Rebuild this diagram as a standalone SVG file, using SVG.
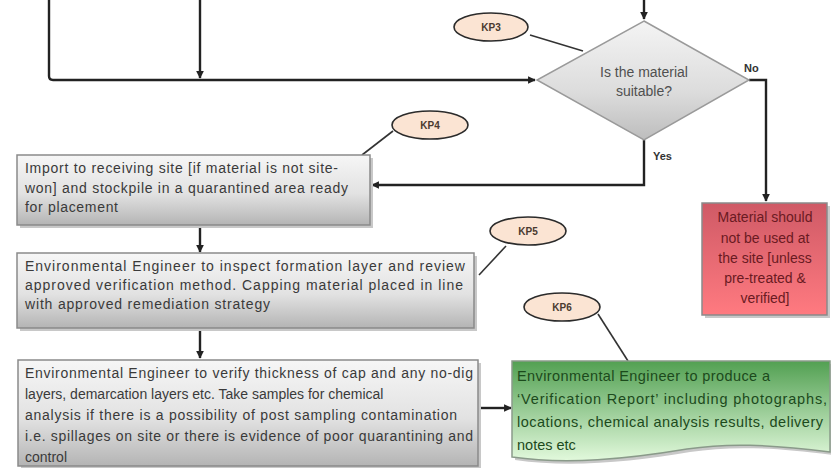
<svg xmlns="http://www.w3.org/2000/svg" width="831" height="468" viewBox="0 0 831 468">
<defs>
<style>
.t{font-family:"Liberation Sans",Arial,sans-serif;font-size:14px;fill:#3a3a3a}
.box{stroke:#8a8a8a;stroke-width:1.5}
.sh{fill:#c8c8c8}
.kp{fill:#fbe4d3;stroke:#2b2b2b;stroke-width:1.6}
.kpt{font-family:"Liberation Sans",Arial,sans-serif;font-size:10px;font-weight:bold;fill:#4a3a30;text-anchor:middle}
.lbl{font-family:"Liberation Sans",Arial,sans-serif;font-size:11px;font-weight:bold;fill:#333}
.c{fill:none;stroke:#222;stroke-width:2.4}
.lead{fill:none;stroke:#333;stroke-width:1.6}
</style>
<linearGradient id="gray" x1="0" y1="0" x2="0" y2="1">
<stop offset="0" stop-color="#f6f6f6"/>
<stop offset="0.55" stop-color="#e2e2e2"/>
<stop offset="1" stop-color="#b4b4b4"/>
</linearGradient>
<linearGradient id="dia" x1="0" y1="0" x2="0" y2="1">
<stop offset="0" stop-color="#f4f4f4"/>
<stop offset="0.6" stop-color="#dcdcdc"/>
<stop offset="1" stop-color="#bdbdbd"/>
</linearGradient>
<linearGradient id="red" x1="0" y1="0" x2="0" y2="1">
<stop offset="0" stop-color="#cf5a66"/>
<stop offset="1" stop-color="#ff7a80"/>
</linearGradient>
<linearGradient id="green" x1="0" y1="0" x2="0" y2="1">
<stop offset="0" stop-color="#52a052"/>
<stop offset="1" stop-color="#e2f9dc"/>
</linearGradient>
<marker id="ah" viewBox="0 0 10 10" refX="9" refY="5" markerWidth="3.2" markerHeight="3.2" orient="auto" markerUnits="strokeWidth">
<path d="M0,0 L10,5 L0,10 z" fill="#222"/>
</marker>
</defs>

<g id="connectors">
<path class="c" d="M49,0 V76 Q49,80 53,80 H535" marker-end="url(#ah)"/>
<path class="c" d="M200,0 V78" marker-end="url(#ah)"/>
<path class="c" d="M644,0 V19" marker-end="url(#ah)"/>
<path class="c" d="M749,80 H766 V201" marker-end="url(#ah)"/>
<path class="c" d="M644,140 V185 H372" marker-end="url(#ah)"/>
<path class="c" d="M200,225 V252" marker-end="url(#ah)"/>
<path class="c" d="M200,329 V358" marker-end="url(#ah)"/>
<path class="c" d="M479,408 H511" marker-end="url(#ah)"/>
<path class="lead" d="M530,35 L583,51"/>
<path class="lead" d="M362,155 L393,131"/>
<path class="lead" d="M479,275 L506,246"/>
<path class="lead" d="M598,314 L628,361"/>
</g>

<g id="decision">
<path d="M644,21 L749,80 L644,140 L537,80 Z" fill="url(#dia)" stroke="#9a9a9a" stroke-width="1.5"/>
<text class="t" x="644" y="77" text-anchor="middle" style="fill:#505050">Is the material</text>
<text class="t" x="644" y="96" text-anchor="middle" style="fill:#505050">suitable?</text>
<text class="lbl" x="744" y="72">No</text>
<text class="lbl" x="653" y="160">Yes</text>
</g>

<g id="kp3"><ellipse class="kp" cx="491" cy="27" rx="37" ry="14"/><text class="kpt" x="491" y="31">KP3</text></g>
<g id="kp4"><ellipse class="kp" cx="430" cy="125" rx="38" ry="14"/><text class="kpt" x="430" y="129">KP4</text></g>
<g id="kp5"><ellipse class="kp" cx="528" cy="231" rx="38" ry="14"/><text class="kpt" x="528" y="235">KP5</text></g>
<g id="kp6"><ellipse class="kp" cx="562" cy="307" rx="38" ry="14"/><text class="kpt" x="562" y="311">KP6</text></g>

<g id="box1">
<rect class="sh" x="20" y="158" width="353" height="70"/>
<rect class="box" x="17" y="155" width="353" height="70" fill="url(#gray)"/>
<text class="t" x="25" y="173" textLength="313" lengthAdjust="spacing">Import to receiving site [if material is not site-</text>
<text class="t" x="25" y="193" textLength="323" lengthAdjust="spacing">won] and stockpile in a quarantined area ready</text>
<text class="t" x="25" y="212" textLength="93" lengthAdjust="spacing">for placement</text>
</g>

<g id="box2">
<rect class="sh" x="20" y="256" width="457" height="75"/>
<rect class="box" x="17" y="253" width="457" height="75" fill="url(#gray)"/>
<text class="t" x="25" y="271" textLength="440" lengthAdjust="spacing">Environmental Engineer to inspect formation layer and review</text>
<text class="t" x="25" y="290" textLength="438" lengthAdjust="spacing">approved verification method. Capping material placed in line</text>
<text class="t" x="25" y="309" textLength="245" lengthAdjust="spacing">with approved remediation strategy</text>
</g>

<g id="box3">
<rect class="sh" x="21" y="363" width="460" height="108"/>
<rect class="box" x="18" y="360" width="460" height="106" fill="url(#gray)"/>
<text class="t" x="25" y="378" textLength="448" lengthAdjust="spacing">Environmental Engineer to verify thickness of cap and any no-dig</text>
<text class="t" x="25" y="399">layers, demarcation layers etc. Take samples for chemical</text>
<text class="t" x="25" y="420" textLength="432" lengthAdjust="spacing">analysis if there is a possibility of post sampling contamination</text>
<text class="t" x="25" y="441" textLength="448" lengthAdjust="spacing">i.e. spillages on site or there is evidence of poor quarantining and</text>
<text class="t" x="25" y="462">control</text>
</g>

<g id="reject">
<rect class="sh" x="705" y="206" width="125" height="112"/>
<rect class="box" x="702" y="203" width="125" height="112" fill="url(#red)"/>
<g style="fill:#6a1a22" font-family="Liberation Sans, Arial, sans-serif" font-size="14" text-anchor="middle">
<text x="765" y="222">Material should</text>
<text x="765" y="243">not be used at</text>
<text x="765" y="263">the site [unless</text>
<text x="765" y="283">pre-treated &amp;</text>
<text x="765" y="303">verified]</text>
</g>
</g>

<g id="report">
<path d="M515,364 H833 V455 C770,447 730,446 690,452 C630,462 570,468 515,460 Z" fill="#c8c8c8"/>
<path d="M512,361 H830 V452 C767,444 727,443 687,449 C627,459 567,465 512,457 Z" fill="url(#green)" stroke="#8a9a8a" stroke-width="1.5"/>
<g style="fill:#1c4a1c" font-family="Liberation Sans, Arial, sans-serif" font-size="14.5">
<text x="517" y="381" textLength="253" lengthAdjust="spacing">Environmental Engineer to produce a</text>
<text x="517" y="404" textLength="310" lengthAdjust="spacing">‘Verification Report’ including photographs,</text>
<text x="517" y="427" textLength="306" lengthAdjust="spacing">locations, chemical analysis results, delivery</text>
<text x="517" y="450">notes etc</text>
</g>
</g>
</svg>
